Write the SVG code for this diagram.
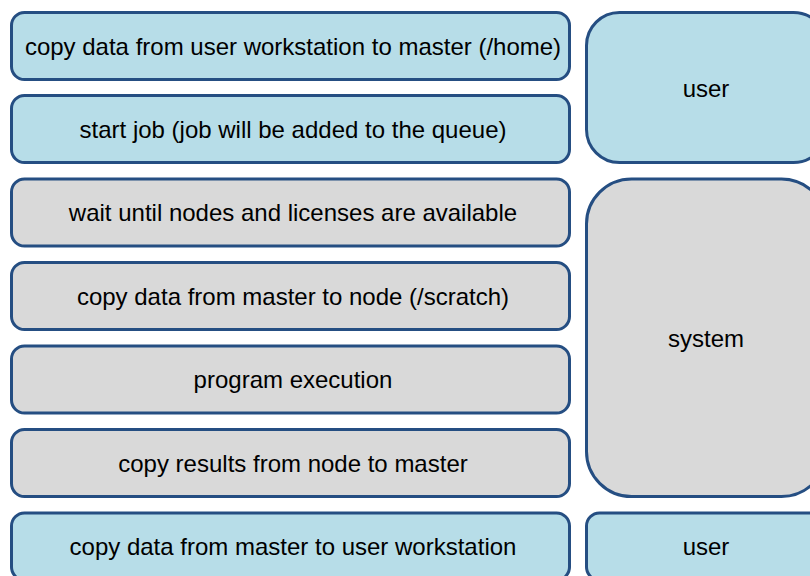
<svg xmlns="http://www.w3.org/2000/svg" width="810" height="576" viewBox="0 0 810 576">
<style>
.b{fill:#b7dde8;stroke:#254e82;stroke-width:3}
.g{fill:#d9d9d9;stroke:#254e82;stroke-width:3}
text{font-family:"Liberation Sans",Arial,sans-serif;font-size:24px;fill:#000;text-anchor:middle;dominant-baseline:central}
</style>
<rect width="810" height="576" fill="#fff"/>
<g id="n1"><rect class="b" x="11.5" y="12.5" width="558" height="67" rx="13"/><text x="293" y="46">copy data from user workstation to master (/home)</text></g>
<g id="n2"><rect class="b" x="11.5" y="95.5" width="558" height="67" rx="13"/><text x="293" y="129">start job (job will be added to the queue)</text></g>
<g id="n3"><rect class="g" x="11.5" y="179" width="558" height="67" rx="13"/><text x="293" y="212">wait until nodes and licenses are available</text></g>
<g id="n4"><rect class="g" x="11.5" y="262.5" width="558" height="67" rx="13"/><text x="293" y="296">copy data from master to node (/scratch)</text></g>
<g id="n5"><rect class="g" x="11.5" y="346" width="558" height="67" rx="13"/><text x="293" y="379">program execution</text></g>
<g id="n6"><rect class="g" x="11.5" y="429.5" width="558" height="67" rx="13"/><text x="293" y="463">copy results from node to master</text></g>
<g id="n7"><rect class="b" x="11.5" y="513" width="558" height="67" rx="13"/><text x="293" y="546">copy data from master to user workstation</text></g>
<g id="u1"><rect class="b" x="586.5" y="12.5" width="240" height="150" rx="33"/><text x="706" y="88">user</text></g>
<g id="s"><rect class="g" x="586.5" y="179" width="240" height="317.5" rx="45"/><text x="706" y="338">system</text></g>
<g id="u2"><rect class="b" x="586.5" y="513" width="240" height="67" rx="13"/><text x="706" y="546">user</text></g>
<g id="connectors"></g>
</svg>
